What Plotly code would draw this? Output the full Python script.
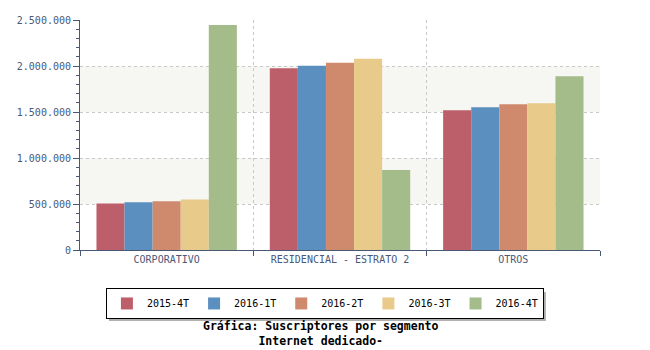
import plotly.graph_objects as go

categories = ["CORPORATIVO", "RESIDENCIAL - ESTRATO 2", "OTROS"]
series_names = ["2015-4T", "2016-1T", "2016-2T", "2016-3T", "2016-4T"]
v_2015_4T = [505000, 1975000, 1520000]
v_2016_1T = [520000, 2003000, 1551000]
v_2016_2T = [530000, 2036000, 1584000]
v_2016_3T = [550000, 2080000, 1594000]
v_2016_4T = [2445000, 870000, 1888000]
series_values = [v_2015_4T, v_2016_1T, v_2016_2T, v_2016_3T, v_2016_4T]
colors = ["#BD5F6A", "#5B8FBF", "#CF8A6E", "#E8CA8A", "#A4BC8A"]
y_ticks = [0, 500000, 1000000, 1500000, 2000000, 2500000]

axis_col = "#4A5878"
mono = "DejaVu Sans Mono"

fig = go.Figure()
for name, vals, col in zip(series_names, series_values, colors):
    fig.add_trace(go.Bar(
        x=categories, y=vals, name=name,
        marker=dict(color=col, line=dict(width=0)),
    ))

# alternating bands
shapes = []
for lo, hi in [(500000, 1000000), (1500000, 2000000)]:
    shapes.append(dict(type="rect", xref="paper", yref="y", x0=0, x1=1, y0=lo, y1=hi,
                       fillcolor="#F6F6F2", line=dict(width=0), layer="below"))
# legend drop shadow
shapes.append(dict(type="rect", xref="paper", yref="paper",
                   x0=0.0558, x1=0.896, y0=-0.3087, y1=-0.1826,
                   fillcolor="#B0B0B0", line=dict(width=0), layer="above"))

fig.update_layout(
    width=650, height=350,
    margin=dict(l=80, r=50, t=20, b=100),
    paper_bgcolor="white", plot_bgcolor="white",
    barmode="group", bargap=0.19, bargroupgap=0,
    separators=",.",
    font=dict(family=mono, size=10, color=axis_col),
    shapes=shapes,
    showlegend=True,
    legend=dict(orientation="h", x=0.471, xanchor="center", y=-0.165, yanchor="top",
                bgcolor="white", bordercolor="black", borderwidth=1,
                font=dict(family=mono, size=10, color="black"),
                itemwidth=30, traceorder="normal"),
    annotations=[dict(text="<b>Gráfica: Suscriptores por segmento</b><br><b>Internet dedicado-</b>",
                      xref="paper", yref="paper", x=0.462, y=-0.29, xanchor="center", yanchor="top",
                      showarrow=False, font=dict(family=mono, size=11.5, color="black"))],
)
fig.update_xaxes(
    type="category", tickson="boundaries", showgrid=True, gridcolor="#C8C8C8", griddash="3px,3px",
    gridwidth=1, showline=True, linecolor=axis_col, linewidth=1,
    ticks="outside", ticklen=5, tickcolor=axis_col,
    tickfont=dict(family=mono, size=10, color=axis_col),
)
fig.update_yaxes(
    range=[0, 2500000], tickvals=y_ticks, tickformat=",d",
    showgrid=True, gridcolor="#C8C8C8", griddash="3px,3px", gridwidth=1,
    showline=True, linecolor=axis_col, linewidth=1, zeroline=False,
    ticks="outside", ticklen=6, tickcolor=axis_col,
    minor=dict(dtick=100000, ticks="outside", ticklen=3, tickcolor=axis_col, showgrid=False),
    tickfont=dict(family=mono, size=10, color=axis_col),
)

fig.write_html("out.html")
